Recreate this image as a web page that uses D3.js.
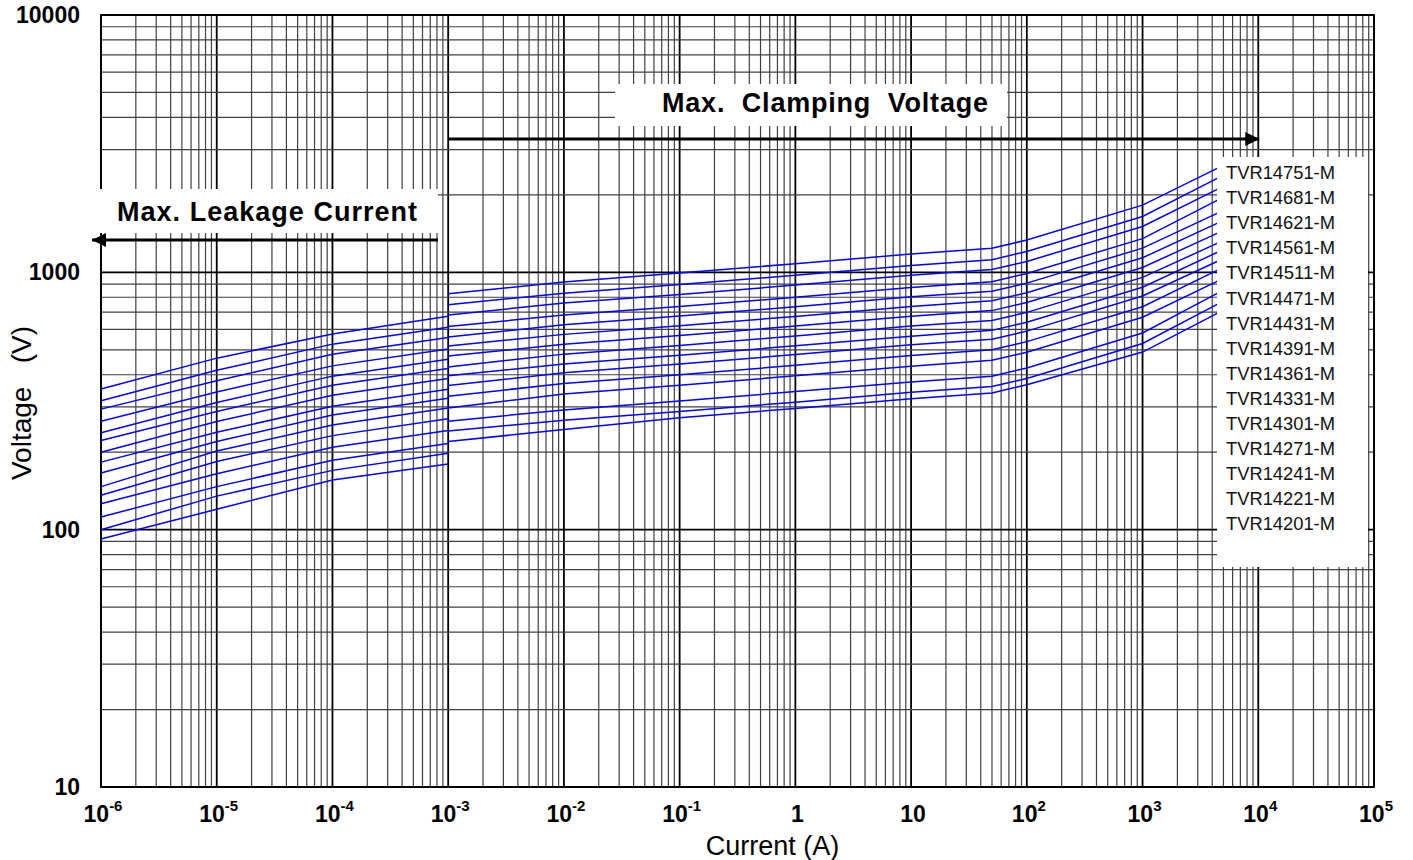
<!DOCTYPE html>
<html>
<head>
<meta charset="utf-8">
<script src="https://cdn.jsdelivr.net/npm/d3@7"></script>
<style>
  body { margin: 0; background: #fff; }
  svg { display: block; font-family: 'Liberation Sans', Arial, sans-serif; }
</style>
</head>
<body>
<svg id="chart" width="1413" height="860"></svg>
<script>
const models = [
  'TVR14751-M', 'TVR14681-M', 'TVR14621-M', 'TVR14561-M', 'TVR14511-M',
  'TVR14471-M', 'TVR14431-M', 'TVR14391-M', 'TVR14361-M', 'TVR14331-M',
  'TVR14301-M', 'TVR14271-M', 'TVR14241-M', 'TVR14221-M', 'TVR14201-M',
]

// leakage part (A) and max voltage per model (V)
const leakCurrent = [1e-6, 1e-5, 1e-4, 1e-3]
const leakVolts = [
  [352, 464, 576, 675],
  [317, 416, 526, 612],
  [294, 379, 480, 558],
  [264, 343, 433, 504],
  [238, 312, 395, 459],
  [222, 288, 364, 423],
  [200, 263, 333, 387],
  [183, 239, 302, 351],
  [166, 220, 279, 324],
  [147, 202, 255, 297],
  [136, 184, 232, 270],
  [126, 165, 209, 243],
  [112, 147, 186, 216],
  [100, 135, 170, 198],
  [92, 120, 156, 180],
]

// clamping part (A) and max clamping voltage per model (V)
const clampCurrent = [1e-3, 1e-2, 1e-1, 1, 10, 50, 100, 1000, 4500]
const clampVolts = [
  [825, 918, 995, 1080, 1178, 1240, 1335, 1825, 2545],
  [748, 830, 896, 975, 1064, 1120, 1205, 1648, 2328],
  [682, 760, 820, 892, 974, 1025, 1102, 1507, 2110],
  [616, 682, 736, 800, 874, 920, 990, 1352, 1911],
  [561, 625, 676, 735, 803, 845, 908, 1242, 1702],
  [517, 574, 620, 674, 736, 775, 833, 1139, 1556],
  [473, 525, 568, 618, 675, 710, 763, 1044, 1423],
  [429, 481, 520, 566, 618, 650, 699, 956, 1301],
  [396, 440, 476, 518, 565, 595, 640, 875, 1200],
  [363, 407, 440, 479, 523, 550, 591, 809, 1107],
  [330, 370, 400, 435, 475, 500, 538, 735, 1022],
  [297, 337, 364, 396, 432, 455, 489, 669, 926],
  [264, 292, 316, 344, 375, 395, 425, 581, 832],
  [242, 266, 288, 313, 342, 360, 387, 529, 754],
  [220, 245, 272, 296, 323, 340, 366, 490, 696],
]

const xExponents = [-6, -5, -4, -3, -2, -1, 0, 1, 2, 3, 4, 5]
const yTickValues = [10, 100, 1000, 10000]

const svg = d3.select('#chart')
const margin = { top: 15, right: 39, bottom: 73, left: 101 }
const width = 1413
const height = 860

const x = d3.scaleLog().domain([1e-6, 1e5]).range([margin.left, width - margin.right])
const y = d3.scaleLog().domain([10, 10000]).range([height - margin.bottom, margin.top])

const [x0, x1] = x.range()
const [y0, y1] = y.range()

const isMajor = (v) => Math.abs(Math.log10(v) - Math.round(Math.log10(v))) < 1e-6

// grid
const grid = svg.append('g')
grid.selectAll('line.vx')
  .data(x.ticks(30))
  .join('line')
  .attr('x1', (d) => x(d)).attr('x2', (d) => x(d))
  .attr('y1', y1).attr('y2', y0)
  .attr('stroke', (d) => (isMajor(d) ? '#000' : '#404040'))
  .attr('stroke-width', (d) => (isMajor(d) ? 1.8 : 1.2))

grid.selectAll('line.hy')
  .data(y.ticks(30))
  .join('line')
  .attr('y1', (d) => y(d)).attr('y2', (d) => y(d))
  .attr('x1', x0).attr('x2', x1)
  .attr('stroke', (d) => (isMajor(d) ? '#000' : '#404040'))
  .attr('stroke-width', (d) => (isMajor(d) ? 1.8 : 1.2))

// frame
svg.append('rect')
  .attr('x', x0).attr('y', y1)
  .attr('width', x1 - x0).attr('height', y0 - y1)
  .attr('fill', 'none').attr('stroke', '#000').attr('stroke-width', 1.8)

// curves
const line = d3.line().x((d) => x(d[0])).y((d) => y(d[1]))
const curves = svg.append('g').attr('fill', 'none').attr('stroke', '#0000ff').attr('stroke-width', 1.5)

curves.selectAll('path.leak')
  .data(leakVolts)
  .join('path')
  .attr('d', (vals) => line(vals.map((v, i) => [leakCurrent[i], v])))

curves.selectAll('path.clamp')
  .data(clampVolts)
  .join('path')
  .attr('d', (vals) => line(vals.map((v, i) => [clampCurrent[i], v])))

// annotation: leakage
svg.append('rect')
  .attr('x', x0 - 1).attr('y', 189).attr('width', 338).attr('height', 44)
  .attr('fill', '#fff')
svg.append('text')
  .attr('x', 117).attr('y', 221)
  .attr('font-size', 27).attr('font-weight', 'bold')
  .attr('textLength', 300).attr('lengthAdjust', 'spacing')
  .text('Max. Leakage Current')

const defs = svg.append('defs')
defs.append('marker')
  .attr('id', 'arrow')
  .attr('viewBox', '0 0 10 10')
  .attr('refX', 10).attr('refY', 5)
  .attr('markerWidth', 5).attr('markerHeight', 5)
  .attr('orient', 'auto')
  .append('path').attr('d', 'M0,0L10,5L0,10Z').attr('fill', '#000')

svg.append('line')
  .attr('x1', 438).attr('x2', x0 - 9)
  .attr('y1', 240).attr('y2', 240)
  .attr('stroke', '#000').attr('stroke-width', 2.8)
  .attr('marker-end', 'url(#arrow)')

// annotation: clamping
svg.append('rect')
  .attr('x', 615).attr('y', 84).attr('width', 392).attr('height', 42)
  .attr('fill', '#fff')
svg.append('text')
  .attr('x', 662).attr('y', 112)
  .attr('font-size', 27).attr('font-weight', 'bold')
  .attr('textLength', 326).attr('lengthAdjust', 'spacing')
  .attr('xml:space', 'preserve')
  .text('Max.  Clamping  Voltage')

svg.append('line')
  .attr('x1', x(1e-3)).attr('x2', x(1e4) + 1)
  .attr('y1', 139).attr('y2', 139)
  .attr('stroke', '#000').attr('stroke-width', 2.8)
  .attr('marker-end', 'url(#arrow)')

// legend box
svg.append('rect')
  .attr('x', 1217).attr('y', 157).attr('width', 151).attr('height', 410)
  .attr('fill', '#fff')
svg.append('g')
  .selectAll('text')
  .data(models)
  .join('text')
  .attr('x', 1226)
  .attr('y', (d, i) => 179 + i * 25.1)
  .attr('font-size', 19)
  .attr('textLength', 109).attr('lengthAdjust', 'spacingAndGlyphs')
  .attr('fill', '#111')
  .text((d) => d)

// y tick labels
svg.append('g')
  .selectAll('text')
  .data(yTickValues)
  .join('text')
  .attr('x', 80)
  .attr('y', (d) => y(d) + 8)
  .attr('text-anchor', 'end')
  .attr('font-size', 23).attr('font-weight', 'bold')
  .text((d) => d)

// x tick labels
const xl = svg.append('g')
  .selectAll('text')
  .data(xExponents)
  .join('text')
  .attr('x', (d) => x(Math.pow(10, d)) + 2)
  .attr('y', 822)
  .attr('text-anchor', 'middle')
  .attr('font-size', 23).attr('font-weight', 'bold')

xl.each(function (d) {
  const t = d3.select(this)
  if (d === 0) { t.text('1'); return }
  if (d === 1) { t.text('10'); return }
  t.append('tspan').text('10')
  t.append('tspan').attr('dy', -11).attr('font-size', 15).text(d)
})

// axis titles
svg.append('text')
  .attr('x', (x0 + x1) / 2 + 35).attr('y', 855)
  .attr('text-anchor', 'middle')
  .attr('font-size', 27)
  .text('Current (A)')

svg.append('text')
  .attr('transform', `translate(31,${403}) rotate(-90)`)
  .attr('text-anchor', 'middle')
  .attr('font-size', 28)
  .attr('xml:space', 'preserve')
  .text('Voltage   (V)')
</script>
</body>
</html>
